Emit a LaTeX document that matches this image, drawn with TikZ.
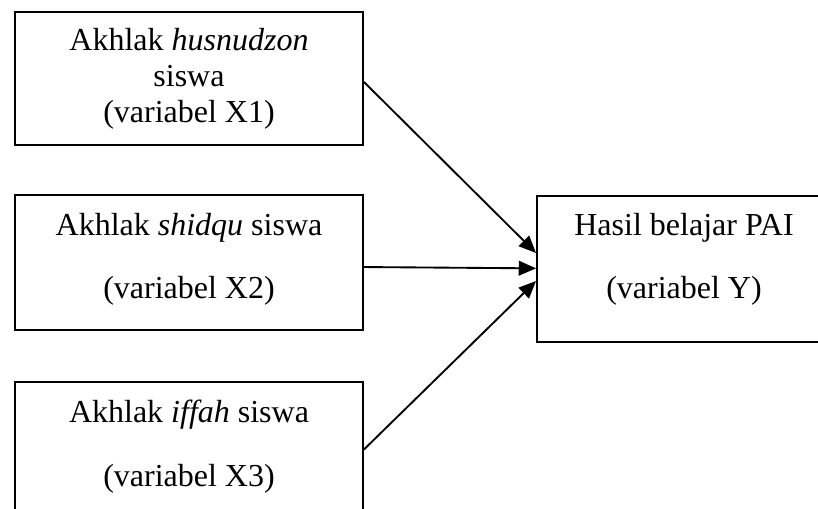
\documentclass[tikz,border=0pt]{standalone}
\usepackage{fontspec}
\setmainfont{Liberation Serif}
\usepackage{tikz}
\usetikzlibrary{positioning,arrows.meta}

\tikzset{
  varbox/.style={draw, line width=1.4pt, align=center, inner sep=0pt,
    text depth=9.5pt, font={\fontsize{24}{47.5}\selectfont}},
  tightbox/.style={varbox, text depth=5pt, font={\fontsize{24}{27}\selectfont}},
  link/.style={line width=1.4pt, -{Triangle[length=13pt,width=11pt]}}
}

\begin{document}
\begin{tikzpicture}[x=0.75pt,y=0.75pt,yscale=-1,xscale=1]
%set diagram size to 818 x 508
\useasboundingbox (0,0) rectangle (818,508);
\clip (0,0) rectangle (818,508);

% Shape: Rectangle (X1)
\node [tightbox, minimum width=261pt, minimum height=99.75pt] (xone) at (189,78.5) {Akhlak \textit{husnudzon}\\siswa\\(variabel X1)};
% Shape: Rectangle (X2)
\node [varbox, minimum width=261pt, minimum height=101.25pt] (xtwo) at (189,262.5) {Akhlak \textit{shidqu} siswa\\(variabel X2)};
% Shape: Rectangle (X3)
\node [varbox, minimum width=261pt, minimum height=101.25pt] (xthree) at (189,449.5) {Akhlak \textit{iffah} siswa\\(variabel X3)};
% Shape: Rectangle (Y)
\node [varbox, text depth=20pt, minimum width=220.5pt, minimum height=109.5pt] (yvar) at (684,269) {Hasil belajar PAI\\(variabel Y)};

% Arrows
\draw [link] ([yshift=2.6pt]xone.east) -- ([yshift=-12pt]yvar.west);
\draw [link] ([yshift=3.4pt]xtwo.east) -- ([yshift=-0.5pt]yvar.west);
\draw [link] (xthree.east) -- ([yshift=9pt]yvar.west);

\end{tikzpicture}
\end{document}
